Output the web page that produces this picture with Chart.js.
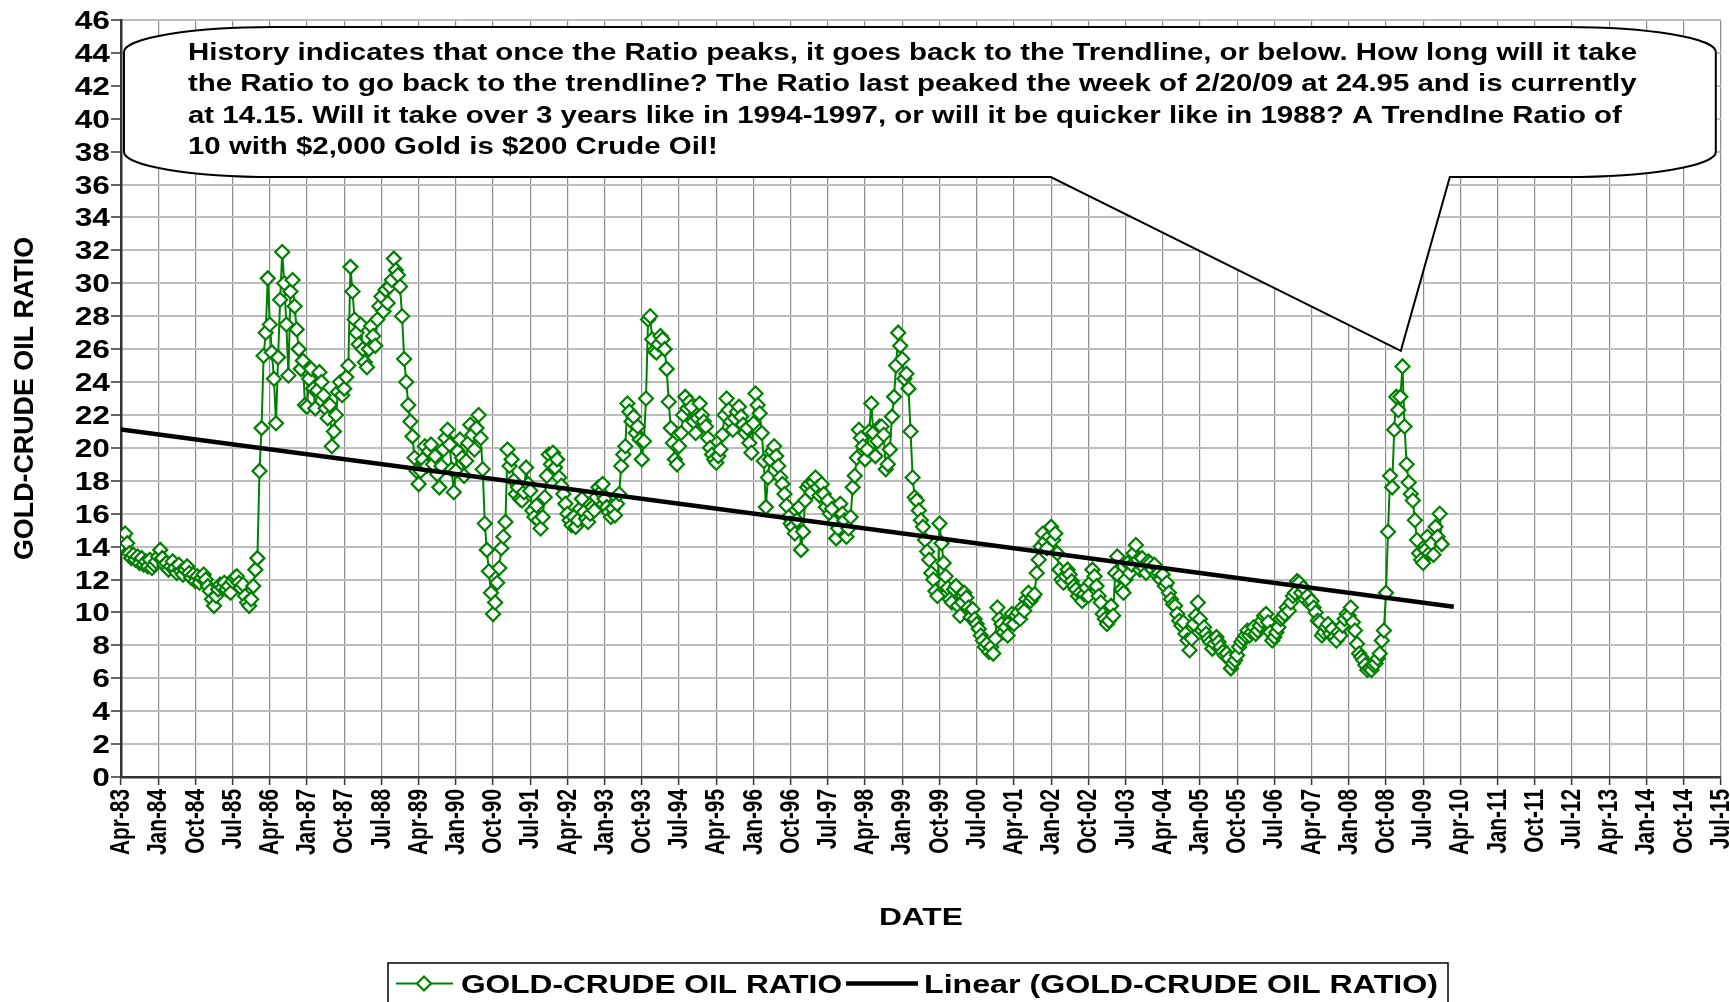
<!DOCTYPE html>
<html><head><meta charset="utf-8">
<script src="https://cdn.jsdelivr.net/npm/chart.js@4.4.1/dist/chart.umd.min.js"></script>
<style>html,body{margin:0;padding:0;background:#fff;}canvas{display:block}</style>
</head><body>
<canvas id="c" width="1730" height="1002"></canvas>
<script>
// ---- DATA: gold / crude oil ratio, two readings per month (1st & 16th) ----
const r1983 = [14.1,14.6,14.8,14.2,13.6,13.3,13.5,13.2,13.4,13.0,13.3,12.9,13.1,12.8,13.2,12.7,12.9,13.1]; // from Apr
const r1984 = [13.4,13.8,13.3,12.9,13.0,12.6,12.8,13.1,12.7,12.4,12.9,12.5,12.3,12.6,12.8,12.4,12.1,12.3,11.9,12.2,11.8,12.1,12.3,12.0];
const r1985 = [11.6,11.3,10.8,10.4,11.0,11.4,11.7,11.5,11.8,11.4,11.6,11.2,11.9,12.1,12.2,11.8,11.5,11.7,11.0,10.6,10.4,10.8,11.6,12.6];
const r1986 = [13.3,18.6,21.2,25.6,27.0,30.3,27.5,25.8,24.2,21.5,25.5,29.0,31.9,30.0,27.5,24.4,29.5,30.2,28.6,27.2,26.0,24.8,25.3,22.6];
const r1987 = [22.5,24.2,24.8,23.6,22.4,23.5,24.6,24.0,23.2,22.4,21.8,22.6,20.1,21.0,22.0,23.4,24.0,23.2,23.6,24.3,25.0,31.0,29.5,27.8];
const r1988 = [27.0,26.3,27.5,26.0,25.2,24.9,26.0,27.4,26.8,26.2,27.8,28.6,29.2,28.3,29.6,28.8,29.8,30.2,31.5,30.8,30.5,29.8,28.0,25.4];
const r1989 = [24.0,22.6,21.6,20.7,19.4,18.6,17.8,18.6,19.3,20.1,18.9,19.8,20.2,19.0,19.5,18.4,17.6,18.9,19.9,20.6,21.1,20.2,18.7,17.3];
const r1990 = [18.6,19.8,20.5,19.4,18.3,19.2,20.3,21.4,20.8,19.9,21.2,22.0,20.6,18.7,15.4,13.8,12.5,11.2,9.9,10.6,11.8,12.7,13.9,14.6];
const r1991 = [15.5,19.9,18.9,19.3,18.0,17.2,17.6,16.9,16.8,17.3,18.8,17.8,17.4,16.2,15.8,16.5,15.6,15.1,15.8,17.0,18.3,19.6,19.0,19.7];
const r1992 = [18.8,19.3,18.2,17.7,17.2,16.6,16.0,15.6,15.3,15.8,15.2,15.6,16.3,16.9,16.1,15.7,15.5,16.0,16.4,16.2,17.0,17.6,17.3,17.8];
const r1993 = [16.9,16.4,16.1,15.8,16.3,15.9,16.6,17.2,18.9,19.6,20.1,22.7,22.2,21.6,21.9,20.9,21.3,20.5,19.3,20.4,23.0,27.8,28.0,26.6];
const r1994 = [25.9,25.8,26.3,26.8,26.6,26.0,24.8,22.8,21.2,20.3,19.3,19.0,20.1,20.9,22.0,23.1,22.4,22.8,22.5,21.6,20.9,21.8,22.7,22.0];
const r1995 = [21.6,21.3,20.6,20.0,19.6,19.3,19.1,19.5,19.9,20.8,22.0,23.0,22.3,21.6,21.1,21.8,22.2,22.5,21.9,21.4,20.9,21.2,20.3,19.7];
const r1996 = [21.5,23.3,22.6,22.1,20.9,19.2,16.4,18.2,19.3,19.8,20.1,19.5,18.9,18.2,17.8,17.2,16.5,15.8,15.4,15.2,14.8,15.6,16.4,13.8];
const r1997 = [14.9,16.8,17.6,17.8,17.3,17.9,18.2,17.6,17.1,17.8,17.2,16.4,16.8,16.0,16.3,15.5,14.5,15.1,16.6,16.0,15.6,14.6,15.1,15.8];
const r1998 = [17.6,18.3,19.4,21.1,20.6,20.1,19.3,19.9,21.0,22.7,20.9,19.5,20.4,21.3,21.3,20.8,18.7,19.0,19.9,21.9,23.1,25.0,27.0,26.2];
const r1999 = [25.4,24.2,24.5,23.6,21.0,18.2,17.0,16.8,16.2,15.6,15.2,14.4,13.7,13.2,12.4,12.0,11.3,11.0,15.4,14.2,13.0,12.2,11.5,10.8];
const r2000 = [10.6,11.4,11.6,10.4,9.8,10.6,11.2,10.9,10.3,9.7,10.2,9.6,9.3,9.0,8.6,8.3,7.9,8.1,7.6,7.9,7.5,8.4,10.3,9.6];
const r2001 = [9.3,8.8,9.1,8.6,9.4,9.9,9.3,9.8,10.0,9.6,10.3,10.1,10.8,11.2,10.7,10.9,11.1,12.4,13.2,14.0,14.8,14.3,13.9,14.6];
const r2002 = [15.2,14.4,14.8,13.6,12.6,12.0,11.8,12.2,12.6,12.3,11.9,11.6,11.4,11.0,11.2,10.7,11.1,11.5,11.0,11.8,12.6,12.2,11.6,11.0];
const r2003 = [10.6,9.9,9.6,9.3,9.5,10.4,9.8,12.4,13.4,12.2,11.4,11.2,12.0,13.0,12.4,12.9,13.6,14.1,13.2,12.6,13.3,12.7,12.4,13.1];
const r2004 = [13.0,12.6,12.9,12.3,12.4,12.0,12.3,11.6,11.8,11.2,10.8,10.5,10.4,9.9,9.5,9.2,9.4,8.7,8.3,7.7,8.4,9.3,9.8,10.6];
const r2005 = [9.6,8.9,9.1,8.7,8.4,8.2,7.8,8.1,8.5,8.2,7.9,7.6,7.4,7.5,7.2,6.6,6.9,7.1,7.4,7.9,8.2,8.4,8.6,8.9];
const r2006 = [8.6,8.8,9.1,8.7,8.9,9.2,9.5,9.8,9.9,9.4,8.8,8.3,8.5,8.8,9.1,9.6,9.7,9.9,10.3,10.1,10.6,11.0,11.2,11.9];
const r2007 = [11.8,11.2,11.5,10.8,11.0,10.6,10.7,10.3,10.0,9.5,9.4,8.6,8.8,9.1,9.3,8.7,9.0,8.5,8.3,8.8,8.6,9.2,9.6,9.9];
const r2008 = [9.8,10.3,9.4,8.9,8.1,7.5,7.3,7.1,6.8,6.5,6.6,6.5,6.8,6.9,7.2,7.5,8.3,8.9,11.2,14.9,18.3,17.6,21.1,23.1];
const r2009 = [22.3,23.1,24.95,21.3,19.0,17.9,17.2,16.8,15.6,14.4,13.6,13.2,13.0,13.8,14.6,13.6,14.2,13.5,15.2,14.6,16.0,14.15];

const ratioYears = [
  [1983, 3, r1983],[1984, 0, r1984],[1985, 0, r1985],[1986, 0, r1986],[1987, 0, r1987],[1988, 0, r1988],
  [1989, 0, r1989],[1990, 0, r1990],[1991, 0, r1991],[1992, 0, r1992],[1993, 0, r1993],[1994, 0, r1994],
  [1995, 0, r1995],[1996, 0, r1996],[1997, 0, r1997],[1998, 0, r1998],[1999, 0, r1999],[2000, 0, r2000],
  [2001, 0, r2001],[2002, 0, r2002],[2003, 0, r2003],[2004, 0, r2004],[2005, 0, r2005],[2006, 0, r2006],
  [2007, 0, r2007],[2008, 0, r2008],[2009, 0, r2009]
];

// Linear trendline endpoints (months after Apr-83, ratio)
const trendMonths = [0, 322.4];
const trendValues = [21.12, 10.34];

// Axis ranges (x in months since Apr-1983)
const xMin = 0, xMax = 387, xStep = 9;   // Apr-83 .. Jul-15 every 9 months
const yMin = 0, yMax = 46, yStep = 2;
const monthNames = ['Jan','Feb','Mar','Apr','May','Jun','Jul','Aug','Sep','Oct','Nov','Dec'];

const seriesLabel = 'GOLD-CRUDE OIL RATIO';
const trendLabel = 'Linear (GOLD-CRUDE OIL RATIO)';
const xTitle = 'DATE';
const yTitle = 'GOLD-CRUDE OIL RATIO';
const noteLines = [
  'History indicates that once the Ratio peaks, it goes back to the Trendline, or below. How long will it take',
  'the Ratio to go back to the trendline? The Ratio last peaked the week of 2/20/09 at 24.95 and is currently',
  'at 14.15. Will it take over 3 years like in 1994-1997, or will it be quicker like in 1988? A Trendlne Ratio of',
  '10 with $2,000 Gold is $200 Crude Oil!'
];
// callout pointer tip, in data units (month, ratio)
const noteTip = [309.6, 25.9];

// ---- build ----
const ratioPoints = [];
for (const [yr, startMon, vals] of ratioYears) {
  vals.forEach((v, k) => ratioPoints.push({x: (yr - 1983) * 12 + startMon - 3 + k * 0.5, y: v}));
}
const trendPoints = trendMonths.map((m, i) => ({x: m, y: trendValues[i]}));

function monthLabel(m) {
  const t = Math.round(m) + 3;
  const yr = 1983 + Math.floor(t / 12);
  return monthNames[t % 12] + '-' + String(yr % 100).padStart(2, '0');
}

const FONT = '"Liberation Sans", Arial, sans-serif';
const GREEN = '#008000';
const STRETCH = 1.27;   // the original artwork is widened horizontally

function setFont(ctx, size) {
  ctx.font = 'bold ' + size + 'px ' + FONT;
  ctx.fillStyle = '#000';
}
function hText(ctx, text, x, y, size, sx, align) {
  ctx.save();
  ctx.translate(x, y);
  ctx.scale(sx, 1);
  setFont(ctx, size);
  ctx.textAlign = align || 'left';
  ctx.textBaseline = 'alphabetic';
  ctx.fillText(text, 0, 0);
  ctx.restore();
}
function vText(ctx, text, x, y, size, along, across, align, baseOff) {
  ctx.save();
  ctx.translate(x, y);
  ctx.rotate(-Math.PI / 2);
  ctx.scale(along, across);
  setFont(ctx, size);
  ctx.textAlign = align || 'left';
  ctx.textBaseline = 'alphabetic';
  ctx.fillText(text, 0, baseOff || 0);
  ctx.restore();
}
function natural(ctx, text, size) {
  ctx.save(); setFont(ctx, size);
  const w = ctx.measureText(text).width;
  ctx.restore();
  return w;
}

const decorPlugin = {
  id: 'decor',
  afterDraw(chart) {
    const ctx = chart.ctx;
    const xs = chart.scales.x, ys = chart.scales.y;
    const ca = chart.chartArea;

    // ---- y tick labels ----
    for (const t of ys.ticks) {
      const py = ys.getPixelForValue(t.value);
      hText(ctx, String(t.value), ca.left - 11, py + 9, 25, STRETCH, 'right');
    }
    // ---- x tick labels (rotated, reading upward) ----
    const xLabelLen = 66;   // drawn length of a label such as "Apr-83"
    const alongX = xLabelLen / natural(ctx, monthLabel(0), 21);
    for (const t of xs.ticks) {
      const px = xs.getPixelForValue(t.value);
      vText(ctx, monthLabel(t.value), px, ca.bottom + 12, 21, alongX, 1.35, 'right', 6);
    }

    // ---- callout ----
    const L = ca.left + 3, R = ca.right - 5, T = ca.top + 7, B = ca.top + 157;
    const rx = 150, ry = 25;
    const tipX = xs.getPixelForValue(noteTip[0]), tipY = ys.getPixelForValue(noteTip[1]);
    const baseL = tipX - 350, baseR = tipX + 49;
    ctx.save();
    ctx.beginPath();
    ctx.moveTo(L, T + ry);
    ctx.lineTo(L, B - ry);
    ctx.ellipse(L + rx, B - ry, rx, ry, 0, Math.PI, Math.PI / 2, true);
    ctx.lineTo(baseL, B);
    ctx.lineTo(tipX, tipY);
    ctx.lineTo(baseR, B);
    ctx.lineTo(R - rx, B);
    ctx.ellipse(R - rx, B - ry, rx, ry, 0, Math.PI / 2, 0, true);
    ctx.lineTo(R, T + ry);
    ctx.ellipse(R - rx, T + ry, rx, ry, 0, 0, -Math.PI / 2, true);
    ctx.lineTo(L + rx, T);
    ctx.ellipse(L + rx, T + ry, rx, ry, 0, -Math.PI / 2, -Math.PI, true);
    ctx.closePath();
    ctx.fillStyle = '#fff';
    ctx.fill();
    ctx.lineWidth = 2;
    ctx.strokeStyle = '#000';
    ctx.stroke();
    ctx.restore();

    const noteScale = 1449 / natural(ctx, noteLines[0], 23);
    noteLines.forEach((line, i) => hText(ctx, line, ca.left + 67, ca.top + 39.5 + i * 31.6, 23, noteScale, 'left'));

    // ---- axis titles ----
    hText(ctx, xTitle, (ca.left + ca.right) / 2, ca.bottom + 148, 24, 84 / natural(ctx, xTitle, 24), 'center');
    vText(ctx, yTitle, 33, (ca.top + ca.bottom) / 2, 24, 323 / natural(ctx, yTitle, 24), 1.15, 'center', 0);

    // ---- legend ----
    const lgTop = 963, lgLeft = 388, lgRight = 1448, cy = 983.5;
    ctx.save();
    ctx.strokeStyle = '#000';
    ctx.lineWidth = 1.5;
    ctx.strokeRect(lgLeft, lgTop, lgRight - lgLeft, 60);
    ctx.beginPath();
    ctx.strokeStyle = GREEN; ctx.lineWidth = 2;
    ctx.moveTo(396, cy); ctx.lineTo(453, cy); ctx.stroke();
    ctx.beginPath();
    ctx.moveTo(424 - 7, cy); ctx.lineTo(424, cy - 7); ctx.lineTo(424 + 7, cy); ctx.lineTo(424, cy + 7); ctx.closePath();
    ctx.fillStyle = '#fff'; ctx.fill(); ctx.lineWidth = 2.2; ctx.stroke();
    ctx.beginPath();
    ctx.strokeStyle = '#000'; ctx.lineWidth = 4.5;
    ctx.moveTo(846, cy); ctx.lineTo(918, cy); ctx.stroke();
    ctx.restore();
    hText(ctx, seriesLabel, 461, cy + 9, 25, 381 / natural(ctx, seriesLabel, 25), 'left');
    hText(ctx, trendLabel, 924, cy + 9, 25, 514 / natural(ctx, trendLabel, 25), 'left');
  }
};

Chart.defaults.font.family = FONT;
Chart.defaults.color = '#000';

new Chart(document.getElementById('c'), {
  type: 'line',
  data: {
    datasets: [
      {
        label: trendLabel, data: trendPoints, borderColor: '#000', borderWidth: 4.5,
        pointRadius: 0, order: 0, tension: 0
      },
      {
        label: seriesLabel, data: ratioPoints, borderColor: GREEN, borderWidth: 2,
        pointStyle: 'rectRot', pointRadius: 7, pointBorderWidth: 2.2,
        pointBackgroundColor: '#fff', pointBorderColor: GREEN, order: 1, tension: 0
      }
    ]
  },
  options: {
    responsive: false, animation: false, devicePixelRatio: 1,
    parsing: false,
    layout: {padding: {left: 0, right: 7, top: 20, bottom: 0}},
    plugins: {legend: {display: false}, tooltip: {enabled: false}, title: {display: false}},
    scales: {
      x: {
        type: 'linear', min: xMin, max: xMax,
        ticks: {stepSize: xStep, autoSkip: false, display: false},
        grid: {color: '#8c8c8c', lineWidth: 1.2, tickLength: 8, tickColor: '#333', tickWidth: 1.5, drawTicks: true},
        border: {display: true, color: '#333', width: 2.5},
        afterFit(s) { s.height = 225; s.paddingLeft = 0; s.paddingRight = 0; }
      },
      y: {
        type: 'linear', min: yMin, max: yMax,
        ticks: {stepSize: yStep, autoSkip: false, display: false},
        grid: {color: '#bdbdbd', lineWidth: 2, tickLength: 10, tickColor: '#333', tickWidth: 1.5, drawTicks: true},
        border: {display: true, color: '#333', width: 2.5},
        afterFit(s) { s.width = 121; s.paddingTop = 0; s.paddingBottom = 0; }
      }
    }
  },
  plugins: [decorPlugin]
});
</script>
</body></html>
